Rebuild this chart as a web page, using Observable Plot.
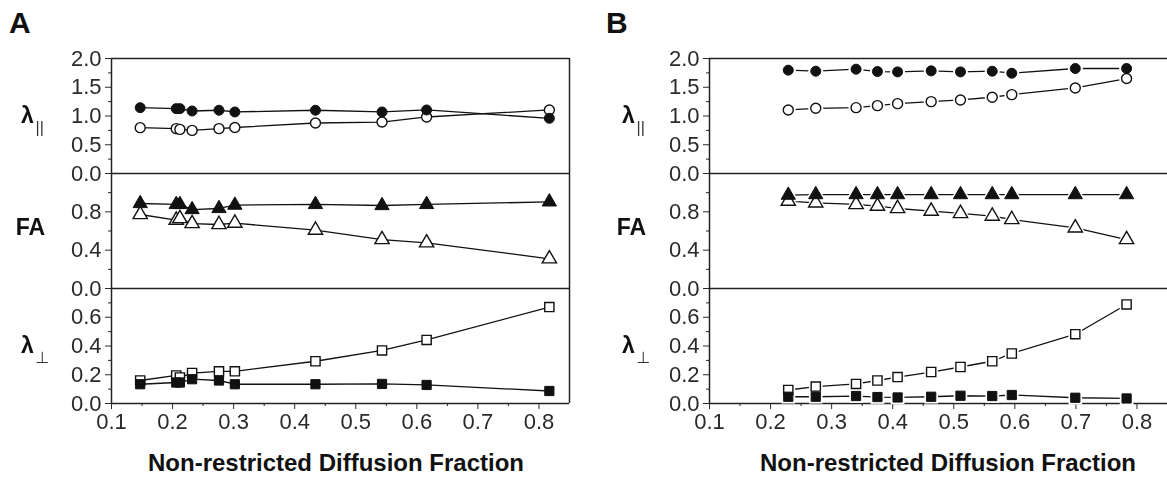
<!DOCTYPE html>
<html><head><meta charset="utf-8">
<script src="https://cdn.jsdelivr.net/npm/d3@7"></script>
<script src="https://cdn.jsdelivr.net/npm/@observablehq/plot@0.6"></script>
<style>
body{margin:0;background:#fff;}
#fig{position:relative;width:1167px;height:478px;overflow:hidden;background:#fff;font-family:"Liberation Sans",Arial,sans-serif;}
#fig svg{position:absolute;overflow:visible;filter:grayscale(1);}
.lab{position:absolute;font-weight:bold;color:#111;white-space:nowrap;line-height:1;}
</style></head><body><div id="fig"></div>
<script>
// ---------- data ----------
const xA = [0.147, 0.206, 0.212, 0.232, 0.276, 0.302, 0.434, 0.543, 0.616, 0.817];
const lparA_filled = [1.145, 1.128, 1.128, 1.087, 1.10, 1.07, 1.10, 1.07, 1.105, 0.96];
const lparA_open   = [0.797, 0.78, 0.767, 0.75, 0.78, 0.80, 0.878, 0.895, 0.983, 1.105];
const faA_filled   = [0.887, 0.877, 0.877, 0.824, 0.835, 0.87, 0.877, 0.866, 0.877, 0.904];
const faA_open     = [0.772, 0.713, 0.73, 0.678, 0.668, 0.682, 0.609, 0.511, 0.477, 0.31];
const lperpA_filled= [0.134, 0.146, 0.146, 0.169, 0.16, 0.134, 0.134, 0.136, 0.129, 0.087];
const lperpA_open  = [0.16, 0.195, 0.181, 0.212, 0.224, 0.224, 0.294, 0.369, 0.442, 0.671];

const xB = [0.229, 0.274, 0.340, 0.375, 0.408, 0.463, 0.511, 0.563, 0.595, 0.699, 0.783];
const lparB_filled = [1.797, 1.779, 1.814, 1.773, 1.767, 1.785, 1.767, 1.779, 1.744, 1.826, 1.826];
const lparB_open   = [1.105, 1.134, 1.145, 1.18, 1.215, 1.25, 1.279, 1.326, 1.372, 1.488, 1.651];
const faB_filled   = [0.974, 0.98, 0.98, 0.98, 0.98, 0.98, 0.98, 0.98, 0.98, 0.98, 0.98];
const faB_open     = [0.911, 0.894, 0.877, 0.859, 0.835, 0.807, 0.783, 0.755, 0.72, 0.633, 0.511];
const lperpB_filled= [0.047, 0.047, 0.052, 0.045, 0.042, 0.047, 0.054, 0.052, 0.059, 0.04, 0.035];
const lperpB_open  = [0.094, 0.118, 0.136, 0.16, 0.184, 0.219, 0.254, 0.294, 0.348, 0.482, 0.689];

const xTicks = [0.1, 0.2, 0.3, 0.4, 0.5, 0.6, 0.7, 0.8];
const xMinor = [0.15, 0.25, 0.35, 0.45, 0.55, 0.65, 0.75];
const xDomain = [0.1, 0.85];

const lparTicks = [0, 0.5, 1.0, 1.5, 2.0], lparLabeled = [0, 0.5, 1.0, 1.5, 2.0], lparMinor = [0.25, 0.75, 1.25, 1.75], lparDomain = [0, 2];
const faTicks = [0, 0.4, 0.8, 1.2], faLabeled = [0, 0.4, 0.8], faMinor = [0.2, 0.6, 1.0], faDomain = [0, 1.2];
const lperpTicks = [0, 0.2, 0.4, 0.6, 0.8], lperpLabeled = [0, 0.2, 0.4, 0.6], lperpMinor = [0.1, 0.3, 0.5, 0.7], lperpDomain = [0, 0.8];

const xTitle = "Non-restricted Diffusion Fraction";

// ---------- drawing ----------
const fig = document.getElementById("fig");
const FONT = '"Liberation Sans", Arial, sans-serif';
const INK = "#111";
const PW = 458, PH = 115, ML = 111;
const fmt = d3.format(".1f");

function subplot(o) {
  const mT = 12, mB = o.xAxis ? 70 : 12, mR = o.mR;
  const rows = o.xs.map((x, i) => ({x, f: o.filled[i], o: o.open[i]}));
  const r = o.sym === "circle" ? 5 : o.sym === "triangle" ? 5.3 : 5.2;
  const marks = [
    Plot.axisY({ticks: o.major, tickSize: 6, tickPadding: 4, tickFormat: d => o.labeled.includes(d) ? fmt(d) : "", fontSize: 22, color: "#2a2a2a", label: null}),
    Plot.axisY({ticks: o.minor, tickSize: 3, tickFormat: () => "", color: "#222", label: null}),
    Plot.ruleY([o.yDomain[1]], {stroke: "#222", strokeWidth: 1.5}),
    Plot.ruleX([xDomain[0]], {stroke: "#222", strokeWidth: 1.5})
  ];
  if (o.rightFrame) marks.push(Plot.ruleX([xDomain[1]], {stroke: "#222", strokeWidth: 1.5}));
  if (o.xAxis) {
    marks.push(
      Plot.ruleY([o.yDomain[0]], {stroke: "#222", strokeWidth: 1.5}),
      Plot.axisX({ticks: xTicks, tickSize: 6, tickPadding: 4, tickFormat: fmt, fontSize: 22, color: "#2a2a2a", label: null}),
      Plot.axisX({ticks: xMinor, tickSize: 3, tickFormat: () => "", color: "#222", label: null})
    );
  }
  marks.push(
    Plot.line(rows, {x: "x", y: "f", stroke: INK, strokeWidth: 1.3}),
    Plot.line(rows, {x: "x", y: "o", stroke: INK, strokeWidth: 1.3})
  );
  if (o.halo) {
    marks.push(
      Plot.dot(rows, {x: "x", y: "f", symbol: o.sym, r: r + 2.5, fill: "white", stroke: "none"}),
      Plot.dot(rows, {x: "x", y: "o", symbol: o.sym, r: r + 2.5, fill: "white", stroke: "none"})
    );
  }
  marks.push(
    Plot.dot(rows, {x: "x", y: "o", symbol: o.sym, r, fill: "white", stroke: INK, strokeWidth: 1.4}),
    Plot.dot(rows, {x: "x", y: "f", symbol: o.sym, r, fill: INK, stroke: INK, strokeWidth: 1})
  );
  // y-axis title
  marks.push(Plot.text([o.title], {frameAnchor: "left", text: d => d, dx: o.tdx, dy: o.tdy, fontSize: 23, fontWeight: "bold", fill: INK, textAnchor: "middle", fontFamily: FONT}));
  if (o.sub) marks.push(Plot.text([o.sub], {frameAnchor: "left", text: d => d, dx: o.tdx + 8, dy: o.tdy + 12, fontSize: o.subSize, fill: "#333", textAnchor: "start", fontFamily: o.subFont || FONT}));
  const svg = Plot.plot({
    width: ML + PW + mR, height: mT + PH + mB,
    marginLeft: ML, marginRight: mR, marginTop: mT, marginBottom: mB,
    x: {domain: xDomain, axis: null},
    y: {domain: o.yDomain, axis: null},
    style: {background: "transparent", overflow: "visible", fontFamily: FONT, color: "#222"},
    marks
  });
  svg.style.left = o.left + "px";
  svg.style.top = (o.top - mT) + "px";
  fig.appendChild(svg);
}

const tops = [57.5, 172.5, 287.5];
const cols = [
  {left: 0, mR: 20, rightFrame: true, halo: false, xs: xA, dx: -81,
   sets: [[lparA_filled, lparA_open], [faA_filled, faA_open], [lperpA_filled, lperpA_open]]},
  {left: 598, mR: 0, rightFrame: false, halo: true, xs: xB, dx: -78,
   sets: [[lparB_filled, lparB_open], [faB_filled, faB_open], [lperpB_filled, lperpB_open]]}
];
cols.forEach(c => {
  subplot({left: c.left, top: tops[0], mR: c.mR, rightFrame: c.rightFrame, halo: c.halo, xs: c.xs,
    filled: c.sets[0][0], open: c.sets[0][1], sym: "circle", yDomain: lparDomain, major: lparTicks, labeled: lparLabeled, minor: lparMinor,
    title: "λ", sub: "||", subSize: 16, tdx: c.dx - 3, tdy: 0});
  subplot({left: c.left, top: tops[1], mR: c.mR, rightFrame: c.rightFrame, halo: c.halo, xs: c.xs,
    filled: c.sets[1][0], open: c.sets[1][1], sym: "triangle", yDomain: faDomain, major: faTicks, labeled: faLabeled, minor: faMinor,
    title: "FA", tdx: c.dx, tdy: -3});
  subplot({left: c.left, top: tops[2], mR: c.mR, rightFrame: c.rightFrame, halo: c.halo, xs: c.xs, xAxis: true,
    filled: c.sets[2][0], open: c.sets[2][1], sym: "square", yDomain: lperpDomain, major: lperpTicks, labeled: lperpLabeled, minor: lperpMinor,
    title: "λ", sub: "⊥", subSize: 16, subFont: '"DejaVu Sans", sans-serif', tdx: c.dx - 3, tdy: 0});
});

// panel letters and x titles
function lab(text, left, top, size, extra) {
  const d = document.createElement("div");
  d.className = "lab"; d.textContent = text;
  d.style.left = left + "px"; d.style.top = top + "px"; d.style.fontSize = size + "px";
  if (extra) Object.assign(d.style, extra);
  fig.appendChild(d);
}
lab("A", 9, 8, 30);
lab("B", 606, 8, 30);
lab(xTitle, 336 - 250, 451, 24, {width: "500px", textAlign: "center"});
lab(xTitle, 948 - 250, 451, 24, {width: "500px", textAlign: "center"});
</script></body></html>
